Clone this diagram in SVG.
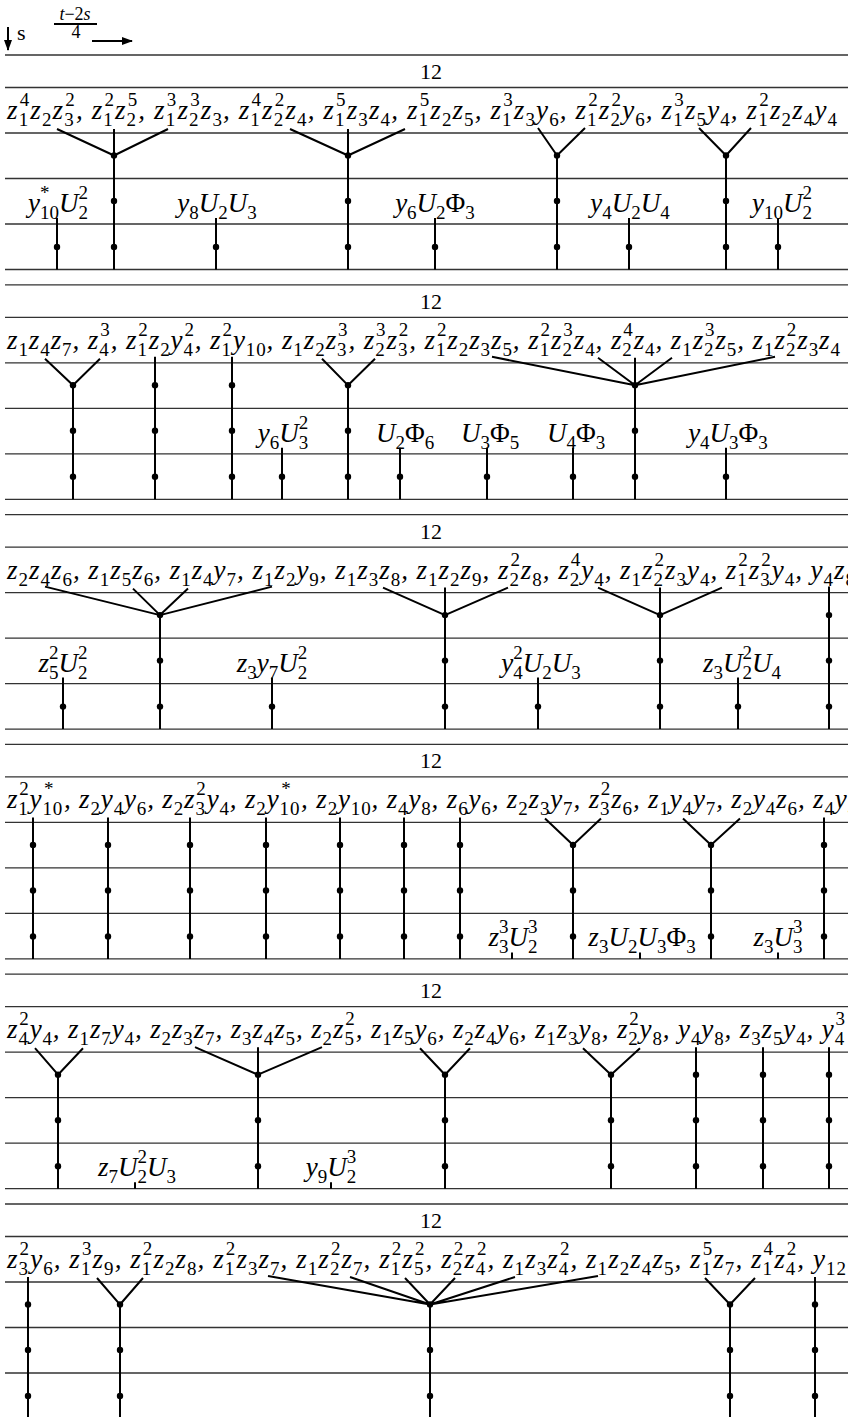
<svg xmlns="http://www.w3.org/2000/svg" xmlns:xlink="http://www.w3.org/1999/xlink" width="848" height="1417" viewBox="0 0 848 1417">
<style>
.hl{stroke:#333;stroke-width:1.3;fill:none}
.c{stroke:#000;stroke-width:2;fill:none}
.h{font-family:"Liberation Serif",serif;font-size:27px;font-style:italic;fill:#000}
.s{font-size:19px;font-style:normal}
.u{font-style:normal}
.n{font-family:"Liberation Serif",serif;font-size:22px;fill:#000}
.f{font-family:"Liberation Serif",serif;font-size:18px;fill:#000}
</style>
<defs>
<marker id="ah" markerUnits="userSpaceOnUse" markerWidth="11" markerHeight="8" refX="10" refY="4" orient="auto"><path d="M0,0 L11,4 L0,8 z" fill="#000"/></marker>
<circle id="dot" r="3.2" fill="#000"/>
</defs>
<rect width="848" height="1417" fill="#fff"/>

<g id="axes">
<path class="c" stroke-width="1.3" d="M8,27 V50" marker-end="url(#ah)"/>
<text class="n" x="17" y="40">s</text>
<text class="f" x="75" y="20" text-anchor="middle" font-style="italic">t<tspan class="u">−2</tspan>s</text>
<path class="c" stroke-width="1" d="M54,24 H97"/>
<text class="f" x="76" y="38" text-anchor="middle">4</text>
<path class="c" stroke-width="1.3" d="M92,41 H132" marker-end="url(#ah)"/>
</g>

<!-- Panel 1 -->
<g id="panel-1">
<g id="p1-frame"><path class="hl" d="M5,55H848M5,87.5H848M5,133H848M5,178.5H848M5,224H848M5,269.5H848"/><text class="n" x="431" y="79" text-anchor="middle">12</text></g>
<g id="p1-header"><text class="h" x="7" y="119" textLength="830" lengthAdjust="spacing">z<tspan class="s" dy="7">1</tspan><tspan class="s" dx="-9.5" dy="-20">4</tspan><tspan dy="13">z</tspan><tspan class="s" dy="7">2</tspan><tspan dy="-7">z</tspan><tspan class="s" dy="7">3</tspan><tspan class="s" dx="-9.5" dy="-20">2</tspan><tspan dy="13">, z</tspan><tspan class="s" dy="7">1</tspan><tspan class="s" dx="-9.5" dy="-20">2</tspan><tspan dy="13">z</tspan><tspan class="s" dy="7">2</tspan><tspan class="s" dx="-9.5" dy="-20">5</tspan><tspan dy="13">, z</tspan><tspan class="s" dy="7">1</tspan><tspan class="s" dx="-9.5" dy="-20">3</tspan><tspan dy="13">z</tspan><tspan class="s" dy="7">2</tspan><tspan class="s" dx="-9.5" dy="-20">3</tspan><tspan dy="13">z</tspan><tspan class="s" dy="7">3</tspan><tspan dy="-7">, z</tspan><tspan class="s" dy="7">1</tspan><tspan class="s" dx="-9.5" dy="-20">4</tspan><tspan dy="13">z</tspan><tspan class="s" dy="7">2</tspan><tspan class="s" dx="-9.5" dy="-20">2</tspan><tspan dy="13">z</tspan><tspan class="s" dy="7">4</tspan><tspan dy="-7">, z</tspan><tspan class="s" dy="7">1</tspan><tspan class="s" dx="-9.5" dy="-20">5</tspan><tspan dy="13">z</tspan><tspan class="s" dy="7">3</tspan><tspan dy="-7">z</tspan><tspan class="s" dy="7">4</tspan><tspan dy="-7">, z</tspan><tspan class="s" dy="7">1</tspan><tspan class="s" dx="-9.5" dy="-20">5</tspan><tspan dy="13">z</tspan><tspan class="s" dy="7">2</tspan><tspan dy="-7">z</tspan><tspan class="s" dy="7">5</tspan><tspan dy="-7">, z</tspan><tspan class="s" dy="7">1</tspan><tspan class="s" dx="-9.5" dy="-20">3</tspan><tspan dy="13">z</tspan><tspan class="s" dy="7">3</tspan><tspan dy="-7">y</tspan><tspan class="s" dy="7">6</tspan><tspan dy="-7">, z</tspan><tspan class="s" dy="7">1</tspan><tspan class="s" dx="-9.5" dy="-20">2</tspan><tspan dy="13">z</tspan><tspan class="s" dy="7">2</tspan><tspan class="s" dx="-9.5" dy="-20">2</tspan><tspan dy="13">y</tspan><tspan class="s" dy="7">6</tspan><tspan dy="-7">, z</tspan><tspan class="s" dy="7">1</tspan><tspan class="s" dx="-9.5" dy="-20">3</tspan><tspan dy="13">z</tspan><tspan class="s" dy="7">5</tspan><tspan dy="-7">y</tspan><tspan class="s" dy="7">4</tspan><tspan dy="-7">, z</tspan><tspan class="s" dy="7">1</tspan><tspan class="s" dx="-9.5" dy="-20">2</tspan><tspan dy="13">z</tspan><tspan class="s" dy="7">2</tspan><tspan dy="-7">z</tspan><tspan class="s" dy="7">4</tspan><tspan dy="-7">y</tspan><tspan class="s" dy="7">4</tspan></text></g>
<g id="p1-connectors">
<path class="c" d="M57,129L114,155.5M114,129V269.5M168,129L114,155.5M290,129L348,155.5M348,129V269.5M405,129L348,155.5M538,128L557,155.5V269.5M585,128L557,155.5M699,128L726,155.5V269.5M751,128L726,155.5M57,218V269.5M216,218V269.5M435,218V269.5M629,218V269.5M778,218V269.5"/>
<use xlink:href="#dot" x="114" y="155.5"/><use xlink:href="#dot" x="114" y="201"/><use xlink:href="#dot" x="114" y="247"/>
<use xlink:href="#dot" x="348" y="155.5"/><use xlink:href="#dot" x="348" y="201"/><use xlink:href="#dot" x="348" y="247"/>
<use xlink:href="#dot" x="557" y="155.5"/><use xlink:href="#dot" x="557" y="201"/><use xlink:href="#dot" x="557" y="247"/>
<use xlink:href="#dot" x="726" y="155.5"/><use xlink:href="#dot" x="726" y="201"/><use xlink:href="#dot" x="726" y="247"/>
<use xlink:href="#dot" x="57" y="247"/><use xlink:href="#dot" x="216" y="247"/><use xlink:href="#dot" x="435" y="247"/><use xlink:href="#dot" x="629" y="247"/><use xlink:href="#dot" x="778" y="247"/>
</g>
<g id="p1-l1"><text class="h" x="58" y="212" text-anchor="middle">y<tspan class="s" dy="7">10</tspan><tspan class="s" dx="-19" dy="-20">*</tspan><tspan dx="9.5" dy="13">U</tspan><tspan class="s" dy="7">2</tspan><tspan class="s" dx="-9.5" dy="-20">2</tspan></text></g>
<g id="p1-l2"><text class="h" x="217" y="212" text-anchor="middle">y<tspan class="s" dy="7">8</tspan><tspan dy="-7">U</tspan><tspan class="s" dy="7">2</tspan><tspan dy="-7">U</tspan><tspan class="s" dy="7">3</tspan></text></g>
<g id="p1-l3"><text class="h" x="435" y="212" text-anchor="middle">y<tspan class="s" dy="7">6</tspan><tspan dy="-7">U</tspan><tspan class="s" dy="7">2</tspan><tspan class="u" dy="-7">Φ</tspan><tspan class="s" dy="7">3</tspan></text></g>
<g id="p1-l4"><text class="h" x="630" y="212" text-anchor="middle">y<tspan class="s" dy="7">4</tspan><tspan dy="-7">U</tspan><tspan class="s" dy="7">2</tspan><tspan dy="-7">U</tspan><tspan class="s" dy="7">4</tspan></text></g>
<g id="p1-l5"><text class="h" x="782" y="212" text-anchor="middle">y<tspan class="s" dy="7">10</tspan><tspan dy="-7">U</tspan><tspan class="s" dy="7">2</tspan><tspan class="s" dx="-9.5" dy="-20">2</tspan></text></g>
</g>

<!-- Panel 2 -->
<g id="panel-2" transform="translate(0,229.8)">
<g id="p2-frame"><path class="hl" d="M5,55H848M5,87.5H848M5,133H848M5,178.5H848M5,224H848M5,269.5H848"/><text class="n" x="431" y="79" text-anchor="middle">12</text></g>
<g id="p2-header"><text class="h" x="7" y="119" textLength="833" lengthAdjust="spacing">z<tspan class="s" dy="7">1</tspan><tspan dy="-7">z</tspan><tspan class="s" dy="7">4</tspan><tspan dy="-7">z</tspan><tspan class="s" dy="7">7</tspan><tspan dy="-7">, z</tspan><tspan class="s" dy="7">4</tspan><tspan class="s" dx="-9.5" dy="-20">3</tspan><tspan dy="13">, z</tspan><tspan class="s" dy="7">1</tspan><tspan class="s" dx="-9.5" dy="-20">2</tspan><tspan dy="13">z</tspan><tspan class="s" dy="7">2</tspan><tspan dy="-7">y</tspan><tspan class="s" dy="7">4</tspan><tspan class="s" dx="-9.5" dy="-20">2</tspan><tspan dy="13">, z</tspan><tspan class="s" dy="7">1</tspan><tspan class="s" dx="-9.5" dy="-20">2</tspan><tspan dy="13">y</tspan><tspan class="s" dy="7">10</tspan><tspan dy="-7">, z</tspan><tspan class="s" dy="7">1</tspan><tspan dy="-7">z</tspan><tspan class="s" dy="7">2</tspan><tspan dy="-7">z</tspan><tspan class="s" dy="7">3</tspan><tspan class="s" dx="-9.5" dy="-20">3</tspan><tspan dy="13">, z</tspan><tspan class="s" dy="7">2</tspan><tspan class="s" dx="-9.5" dy="-20">3</tspan><tspan dy="13">z</tspan><tspan class="s" dy="7">3</tspan><tspan class="s" dx="-9.5" dy="-20">2</tspan><tspan dy="13">, z</tspan><tspan class="s" dy="7">1</tspan><tspan class="s" dx="-9.5" dy="-20">2</tspan><tspan dy="13">z</tspan><tspan class="s" dy="7">2</tspan><tspan dy="-7">z</tspan><tspan class="s" dy="7">3</tspan><tspan dy="-7">z</tspan><tspan class="s" dy="7">5</tspan><tspan dy="-7">, z</tspan><tspan class="s" dy="7">1</tspan><tspan class="s" dx="-9.5" dy="-20">2</tspan><tspan dy="13">z</tspan><tspan class="s" dy="7">2</tspan><tspan class="s" dx="-9.5" dy="-20">3</tspan><tspan dy="13">z</tspan><tspan class="s" dy="7">4</tspan><tspan dy="-7">, z</tspan><tspan class="s" dy="7">2</tspan><tspan class="s" dx="-9.5" dy="-20">4</tspan><tspan dy="13">z</tspan><tspan class="s" dy="7">4</tspan><tspan dy="-7">, z</tspan><tspan class="s" dy="7">1</tspan><tspan dy="-7">z</tspan><tspan class="s" dy="7">2</tspan><tspan class="s" dx="-9.5" dy="-20">3</tspan><tspan dy="13">z</tspan><tspan class="s" dy="7">5</tspan><tspan dy="-7">, z</tspan><tspan class="s" dy="7">1</tspan><tspan dy="-7">z</tspan><tspan class="s" dy="7">2</tspan><tspan class="s" dx="-9.5" dy="-20">2</tspan><tspan dy="13">z</tspan><tspan class="s" dy="7">3</tspan><tspan dy="-7">z</tspan><tspan class="s" dy="7">4</tspan></text></g>
<g id="p2-connectors">
<path class="c" d="M45,129L73,155.5V269.5M100,129L73,155.5M155,127V269.5M232,127V269.5M322,129L348,155.5V269.5M375,129L348,155.5M492,127L635,155.5M598,128L635,155.5M635,128V269.5M672,128L635,155.5M775,127L635,155.5M282,218V269.5M400,218V269.5M487,218V269.5M573,218V269.5M726,218V269.5"/>
<use xlink:href="#dot" x="73" y="155.5"/><use xlink:href="#dot" x="73" y="201"/><use xlink:href="#dot" x="73" y="247"/>
<use xlink:href="#dot" x="155" y="155.5"/><use xlink:href="#dot" x="155" y="201"/><use xlink:href="#dot" x="155" y="247"/>
<use xlink:href="#dot" x="232" y="155.5"/><use xlink:href="#dot" x="232" y="201"/><use xlink:href="#dot" x="232" y="247"/>
<use xlink:href="#dot" x="348" y="155.5"/><use xlink:href="#dot" x="348" y="201"/><use xlink:href="#dot" x="348" y="247"/>
<use xlink:href="#dot" x="635" y="155.5"/><use xlink:href="#dot" x="635" y="201"/><use xlink:href="#dot" x="635" y="247"/>
<use xlink:href="#dot" x="282" y="247"/><use xlink:href="#dot" x="400" y="247"/><use xlink:href="#dot" x="487" y="247"/><use xlink:href="#dot" x="573" y="247"/><use xlink:href="#dot" x="726" y="247"/>
</g>
<g id="p2-l1"><text class="h" x="283" y="212" text-anchor="middle">y<tspan class="s" dy="7">6</tspan><tspan dy="-7">U</tspan><tspan class="s" dy="7">3</tspan><tspan class="s" dx="-9.5" dy="-20">2</tspan></text></g>
<g id="p2-l2"><text class="h" x="405" y="212" text-anchor="middle">U<tspan class="s" dy="7">2</tspan><tspan class="u" dy="-7">Φ</tspan><tspan class="s" dy="7">6</tspan></text></g>
<g id="p2-l3"><text class="h" x="490" y="212" text-anchor="middle">U<tspan class="s" dy="7">3</tspan><tspan class="u" dy="-7">Φ</tspan><tspan class="s" dy="7">5</tspan></text></g>
<g id="p2-l4"><text class="h" x="576" y="212" text-anchor="middle">U<tspan class="s" dy="7">4</tspan><tspan class="u" dy="-7">Φ</tspan><tspan class="s" dy="7">3</tspan></text></g>
<g id="p2-l5"><text class="h" x="728" y="212" text-anchor="middle">y<tspan class="s" dy="7">4</tspan><tspan dy="-7">U</tspan><tspan class="s" dy="7">3</tspan><tspan class="u" dy="-7">Φ</tspan><tspan class="s" dy="7">3</tspan></text></g>
</g>

<!-- Panel 3 -->
<g id="panel-3" transform="translate(0,459.6)">
<g id="p3-frame"><path class="hl" d="M5,55H848M5,87.5H848M5,133H848M5,178.5H848M5,224H848M5,269.5H848"/><text class="n" x="431" y="79" text-anchor="middle">12</text></g>
<g id="p3-header"><text class="h" x="7" y="119" textLength="848" lengthAdjust="spacing">z<tspan class="s" dy="7">2</tspan><tspan dy="-7">z</tspan><tspan class="s" dy="7">4</tspan><tspan dy="-7">z</tspan><tspan class="s" dy="7">6</tspan><tspan dy="-7">, z</tspan><tspan class="s" dy="7">1</tspan><tspan dy="-7">z</tspan><tspan class="s" dy="7">5</tspan><tspan dy="-7">z</tspan><tspan class="s" dy="7">6</tspan><tspan dy="-7">, z</tspan><tspan class="s" dy="7">1</tspan><tspan dy="-7">z</tspan><tspan class="s" dy="7">4</tspan><tspan dy="-7">y</tspan><tspan class="s" dy="7">7</tspan><tspan dy="-7">, z</tspan><tspan class="s" dy="7">1</tspan><tspan dy="-7">z</tspan><tspan class="s" dy="7">2</tspan><tspan dy="-7">y</tspan><tspan class="s" dy="7">9</tspan><tspan dy="-7">, z</tspan><tspan class="s" dy="7">1</tspan><tspan dy="-7">z</tspan><tspan class="s" dy="7">3</tspan><tspan dy="-7">z</tspan><tspan class="s" dy="7">8</tspan><tspan dy="-7">, z</tspan><tspan class="s" dy="7">1</tspan><tspan dy="-7">z</tspan><tspan class="s" dy="7">2</tspan><tspan dy="-7">z</tspan><tspan class="s" dy="7">9</tspan><tspan dy="-7">, z</tspan><tspan class="s" dy="7">2</tspan><tspan class="s" dx="-9.5" dy="-20">2</tspan><tspan dy="13">z</tspan><tspan class="s" dy="7">8</tspan><tspan dy="-7">, z</tspan><tspan class="s" dy="7">2</tspan><tspan class="s" dx="-9.5" dy="-20">4</tspan><tspan dy="13">y</tspan><tspan class="s" dy="7">4</tspan><tspan dy="-7">, z</tspan><tspan class="s" dy="7">1</tspan><tspan dy="-7">z</tspan><tspan class="s" dy="7">2</tspan><tspan class="s" dx="-9.5" dy="-20">2</tspan><tspan dy="13">z</tspan><tspan class="s" dy="7">3</tspan><tspan dy="-7">y</tspan><tspan class="s" dy="7">4</tspan><tspan dy="-7">, z</tspan><tspan class="s" dy="7">1</tspan><tspan class="s" dx="-9.5" dy="-20">2</tspan><tspan dy="13">z</tspan><tspan class="s" dy="7">3</tspan><tspan class="s" dx="-9.5" dy="-20">2</tspan><tspan dy="13">y</tspan><tspan class="s" dy="7">4</tspan><tspan dy="-7">, y</tspan><tspan class="s" dy="7">4</tspan><tspan dy="-7">z</tspan><tspan class="s" dy="7">8</tspan></text></g>
<g id="p3-connectors">
<path class="c" d="M45,127L160,155.5M133,129L160,155.5M188,129L160,155.5M272,127L160,155.5M160,155.5V269.5M383,128L445,155.5M445,128V269.5M508,128L445,155.5M598,128L660,155.5M660,128V269.5M722,128L660,155.5M829,127V269.5M63,218V269.5M272,218V269.5M538,218V269.5M738,218V269.5"/>
<use xlink:href="#dot" x="160" y="155.5"/><use xlink:href="#dot" x="160" y="201"/><use xlink:href="#dot" x="160" y="247"/>
<use xlink:href="#dot" x="445" y="155.5"/><use xlink:href="#dot" x="445" y="201"/><use xlink:href="#dot" x="445" y="247"/>
<use xlink:href="#dot" x="660" y="155.5"/><use xlink:href="#dot" x="660" y="201"/><use xlink:href="#dot" x="660" y="247"/>
<use xlink:href="#dot" x="829" y="155.5"/><use xlink:href="#dot" x="829" y="201"/><use xlink:href="#dot" x="829" y="247"/>
<use xlink:href="#dot" x="63" y="247"/><use xlink:href="#dot" x="272" y="247"/><use xlink:href="#dot" x="538" y="247"/><use xlink:href="#dot" x="738" y="247"/>
</g>
<g id="p3-l1"><text class="h" x="63" y="212" text-anchor="middle">z<tspan class="s" dy="7">5</tspan><tspan class="s" dx="-9.5" dy="-20">2</tspan><tspan dy="13">U</tspan><tspan class="s" dy="7">2</tspan><tspan class="s" dx="-9.5" dy="-20">2</tspan></text></g>
<g id="p3-l2"><text class="h" x="272" y="212" text-anchor="middle">z<tspan class="s" dy="7">3</tspan><tspan dy="-7">y</tspan><tspan class="s" dy="7">7</tspan><tspan dy="-7">U</tspan><tspan class="s" dy="7">2</tspan><tspan class="s" dx="-9.5" dy="-20">2</tspan></text></g>
<g id="p3-l3"><text class="h" x="541" y="212" text-anchor="middle">y<tspan class="s" dy="7">4</tspan><tspan class="s" dx="-9.5" dy="-20">2</tspan><tspan dy="13">U</tspan><tspan class="s" dy="7">2</tspan><tspan dy="-7">U</tspan><tspan class="s" dy="7">3</tspan></text></g>
<g id="p3-l4"><text class="h" x="742" y="212" text-anchor="middle">z<tspan class="s" dy="7">3</tspan><tspan dy="-7">U</tspan><tspan class="s" dy="7">2</tspan><tspan class="s" dx="-9.5" dy="-20">2</tspan><tspan dy="13">U</tspan><tspan class="s" dy="7">4</tspan></text></g>
</g>

<!-- Panel 4 -->
<g id="panel-4" transform="translate(0,689.4)">
<g id="p4-frame"><path class="hl" d="M5,55H848M5,87.5H848M5,133H848M5,178.5H848M5,224H848M5,269.5H848"/><text class="n" x="431" y="79" text-anchor="middle">12</text></g>
<g id="p4-header"><text class="h" x="7" y="119" textLength="851" lengthAdjust="spacing">z<tspan class="s" dy="7">1</tspan><tspan class="s" dx="-9.5" dy="-20">2</tspan><tspan dy="13">y</tspan><tspan class="s" dy="7">10</tspan><tspan class="s" dx="-19" dy="-20">*</tspan><tspan dx="9.5" dy="13">, z</tspan><tspan class="s" dy="7">2</tspan><tspan dy="-7">y</tspan><tspan class="s" dy="7">4</tspan><tspan dy="-7">y</tspan><tspan class="s" dy="7">6</tspan><tspan dy="-7">, z</tspan><tspan class="s" dy="7">2</tspan><tspan dy="-7">z</tspan><tspan class="s" dy="7">3</tspan><tspan class="s" dx="-9.5" dy="-20">2</tspan><tspan dy="13">y</tspan><tspan class="s" dy="7">4</tspan><tspan dy="-7">, z</tspan><tspan class="s" dy="7">2</tspan><tspan dy="-7">y</tspan><tspan class="s" dy="7">10</tspan><tspan class="s" dx="-19" dy="-20">*</tspan><tspan dx="9.5" dy="13">, z</tspan><tspan class="s" dy="7">2</tspan><tspan dy="-7">y</tspan><tspan class="s" dy="7">10</tspan><tspan dy="-7">, z</tspan><tspan class="s" dy="7">4</tspan><tspan dy="-7">y</tspan><tspan class="s" dy="7">8</tspan><tspan dy="-7">, z</tspan><tspan class="s" dy="7">6</tspan><tspan dy="-7">y</tspan><tspan class="s" dy="7">6</tspan><tspan dy="-7">, z</tspan><tspan class="s" dy="7">2</tspan><tspan dy="-7">z</tspan><tspan class="s" dy="7">3</tspan><tspan dy="-7">y</tspan><tspan class="s" dy="7">7</tspan><tspan dy="-7">, z</tspan><tspan class="s" dy="7">3</tspan><tspan class="s" dx="-9.5" dy="-20">2</tspan><tspan dy="13">z</tspan><tspan class="s" dy="7">6</tspan><tspan dy="-7">, z</tspan><tspan class="s" dy="7">1</tspan><tspan dy="-7">y</tspan><tspan class="s" dy="7">4</tspan><tspan dy="-7">y</tspan><tspan class="s" dy="7">7</tspan><tspan dy="-7">, z</tspan><tspan class="s" dy="7">2</tspan><tspan dy="-7">y</tspan><tspan class="s" dy="7">4</tspan><tspan dy="-7">z</tspan><tspan class="s" dy="7">6</tspan><tspan dy="-7">, z</tspan><tspan class="s" dy="7">4</tspan><tspan dy="-7">y</tspan><tspan class="s" dy="7">4</tspan><tspan class="s" dx="-9.5" dy="-20">2</tspan></text></g>
<g id="p4-connectors">
<path class="c" d="M33,128V269.5M108,128V269.5M190,128V269.5M266,128V269.5M340,128V269.5M404,128V269.5M460,128V269.5M824,128V269.5M545,129L573,155.5V269.5M601,129L573,155.5M683,129L711,155.5V269.5M740,129L711,155.5M512,263V269.5M640,263V269.5M778,263V269.5"/>
<use xlink:href="#dot" x="33" y="155.5"/><use xlink:href="#dot" x="33" y="201"/><use xlink:href="#dot" x="33" y="247"/>
<use xlink:href="#dot" x="108" y="155.5"/><use xlink:href="#dot" x="108" y="201"/><use xlink:href="#dot" x="108" y="247"/>
<use xlink:href="#dot" x="190" y="155.5"/><use xlink:href="#dot" x="190" y="201"/><use xlink:href="#dot" x="190" y="247"/>
<use xlink:href="#dot" x="266" y="155.5"/><use xlink:href="#dot" x="266" y="201"/><use xlink:href="#dot" x="266" y="247"/>
<use xlink:href="#dot" x="340" y="155.5"/><use xlink:href="#dot" x="340" y="201"/><use xlink:href="#dot" x="340" y="247"/>
<use xlink:href="#dot" x="404" y="155.5"/><use xlink:href="#dot" x="404" y="201"/><use xlink:href="#dot" x="404" y="247"/>
<use xlink:href="#dot" x="460" y="155.5"/><use xlink:href="#dot" x="460" y="201"/><use xlink:href="#dot" x="460" y="247"/>
<use xlink:href="#dot" x="573" y="155.5"/><use xlink:href="#dot" x="573" y="201"/><use xlink:href="#dot" x="573" y="247"/>
<use xlink:href="#dot" x="711" y="155.5"/><use xlink:href="#dot" x="711" y="201"/><use xlink:href="#dot" x="711" y="247"/>
<use xlink:href="#dot" x="824" y="155.5"/><use xlink:href="#dot" x="824" y="201"/><use xlink:href="#dot" x="824" y="247"/>
</g>
<g id="p4-l1"><text class="h" x="513" y="257" text-anchor="middle">z<tspan class="s" dy="7">3</tspan><tspan class="s" dx="-9.5" dy="-20">3</tspan><tspan dy="13">U</tspan><tspan class="s" dy="7">2</tspan><tspan class="s" dx="-9.5" dy="-20">3</tspan></text></g>
<g id="p4-l2"><text class="h" x="642" y="257" text-anchor="middle">z<tspan class="s" dy="7">3</tspan><tspan dy="-7">U</tspan><tspan class="s" dy="7">2</tspan><tspan dy="-7">U</tspan><tspan class="s" dy="7">3</tspan><tspan class="u" dy="-7">Φ</tspan><tspan class="s" dy="7">3</tspan></text></g>
<g id="p4-l3"><text class="h" x="778" y="257" text-anchor="middle">z<tspan class="s" dy="7">3</tspan><tspan dy="-7">U</tspan><tspan class="s" dy="7">3</tspan><tspan class="s" dx="-9.5" dy="-20">3</tspan></text></g>
</g>

<!-- Panel 5 -->
<g id="panel-5" transform="translate(0,919.2)">
<g id="p5-frame"><path class="hl" d="M5,55H848M5,87.5H848M5,133H848M5,178.5H848M5,224H848M5,269.5H848"/><text class="n" x="431" y="79" text-anchor="middle">12</text></g>
<g id="p5-header"><text class="h" x="7" y="119" textLength="838" lengthAdjust="spacing">z<tspan class="s" dy="7">4</tspan><tspan class="s" dx="-9.5" dy="-20">2</tspan><tspan dy="13">y</tspan><tspan class="s" dy="7">4</tspan><tspan dy="-7">, z</tspan><tspan class="s" dy="7">1</tspan><tspan dy="-7">z</tspan><tspan class="s" dy="7">7</tspan><tspan dy="-7">y</tspan><tspan class="s" dy="7">4</tspan><tspan dy="-7">, z</tspan><tspan class="s" dy="7">2</tspan><tspan dy="-7">z</tspan><tspan class="s" dy="7">3</tspan><tspan dy="-7">z</tspan><tspan class="s" dy="7">7</tspan><tspan dy="-7">, z</tspan><tspan class="s" dy="7">3</tspan><tspan dy="-7">z</tspan><tspan class="s" dy="7">4</tspan><tspan dy="-7">z</tspan><tspan class="s" dy="7">5</tspan><tspan dy="-7">, z</tspan><tspan class="s" dy="7">2</tspan><tspan dy="-7">z</tspan><tspan class="s" dy="7">5</tspan><tspan class="s" dx="-9.5" dy="-20">2</tspan><tspan dy="13">, z</tspan><tspan class="s" dy="7">1</tspan><tspan dy="-7">z</tspan><tspan class="s" dy="7">5</tspan><tspan dy="-7">y</tspan><tspan class="s" dy="7">6</tspan><tspan dy="-7">, z</tspan><tspan class="s" dy="7">2</tspan><tspan dy="-7">z</tspan><tspan class="s" dy="7">4</tspan><tspan dy="-7">y</tspan><tspan class="s" dy="7">6</tspan><tspan dy="-7">, z</tspan><tspan class="s" dy="7">1</tspan><tspan dy="-7">z</tspan><tspan class="s" dy="7">3</tspan><tspan dy="-7">y</tspan><tspan class="s" dy="7">8</tspan><tspan dy="-7">, z</tspan><tspan class="s" dy="7">2</tspan><tspan class="s" dx="-9.5" dy="-20">2</tspan><tspan dy="13">y</tspan><tspan class="s" dy="7">8</tspan><tspan dy="-7">, y</tspan><tspan class="s" dy="7">4</tspan><tspan dy="-7">y</tspan><tspan class="s" dy="7">8</tspan><tspan dy="-7">, z</tspan><tspan class="s" dy="7">3</tspan><tspan dy="-7">z</tspan><tspan class="s" dy="7">5</tspan><tspan dy="-7">y</tspan><tspan class="s" dy="7">4</tspan><tspan dy="-7">, y</tspan><tspan class="s" dy="7">4</tspan><tspan class="s" dx="-9.5" dy="-20">3</tspan></text></g>
<g id="p5-connectors">
<path class="c" d="M35,129L58,155.5V269.5M83,129L58,155.5M195,128L258,155.5M258,128V269.5M322,128L258,155.5M420,129L445,155.5V269.5M470,129L445,155.5M583,129L611,155.5V269.5M640,129L611,155.5M696,128V269.5M763,128V269.5M829,128V269.5M135,263V269.5M331,263V269.5"/>
<use xlink:href="#dot" x="58" y="155.5"/><use xlink:href="#dot" x="58" y="201"/><use xlink:href="#dot" x="58" y="247"/>
<use xlink:href="#dot" x="258" y="155.5"/><use xlink:href="#dot" x="258" y="201"/><use xlink:href="#dot" x="258" y="247"/>
<use xlink:href="#dot" x="445" y="155.5"/><use xlink:href="#dot" x="445" y="201"/><use xlink:href="#dot" x="445" y="247"/>
<use xlink:href="#dot" x="611" y="155.5"/><use xlink:href="#dot" x="611" y="201"/><use xlink:href="#dot" x="611" y="247"/>
<use xlink:href="#dot" x="696" y="155.5"/><use xlink:href="#dot" x="696" y="201"/><use xlink:href="#dot" x="696" y="247"/>
<use xlink:href="#dot" x="763" y="155.5"/><use xlink:href="#dot" x="763" y="201"/><use xlink:href="#dot" x="763" y="247"/>
<use xlink:href="#dot" x="829" y="155.5"/><use xlink:href="#dot" x="829" y="201"/><use xlink:href="#dot" x="829" y="247"/>
</g>
<g id="p5-l1"><text class="h" x="137" y="257" text-anchor="middle">z<tspan class="s" dy="7">7</tspan><tspan dy="-7">U</tspan><tspan class="s" dy="7">2</tspan><tspan class="s" dx="-9.5" dy="-20">2</tspan><tspan dy="13">U</tspan><tspan class="s" dy="7">3</tspan></text></g>
<g id="p5-l2"><text class="h" x="331" y="257" text-anchor="middle">y<tspan class="s" dy="7">9</tspan><tspan dy="-7">U</tspan><tspan class="s" dy="7">2</tspan><tspan class="s" dx="-9.5" dy="-20">3</tspan></text></g>
</g>

<!-- Panel 6 -->
<g id="panel-6" transform="translate(0,1149)">
<g id="p6-frame"><path class="hl" d="M5,55H848M5,87.5H848M5,133H848M5,178.5H848M5,224H848"/><text class="n" x="431" y="79" text-anchor="middle">12</text></g>
<g id="p6-header"><text class="h" x="7" y="119" textLength="839" lengthAdjust="spacing">z<tspan class="s" dy="7">3</tspan><tspan class="s" dx="-9.5" dy="-20">2</tspan><tspan dy="13">y</tspan><tspan class="s" dy="7">6</tspan><tspan dy="-7">, z</tspan><tspan class="s" dy="7">1</tspan><tspan class="s" dx="-9.5" dy="-20">3</tspan><tspan dy="13">z</tspan><tspan class="s" dy="7">9</tspan><tspan dy="-7">, z</tspan><tspan class="s" dy="7">1</tspan><tspan class="s" dx="-9.5" dy="-20">2</tspan><tspan dy="13">z</tspan><tspan class="s" dy="7">2</tspan><tspan dy="-7">z</tspan><tspan class="s" dy="7">8</tspan><tspan dy="-7">, z</tspan><tspan class="s" dy="7">1</tspan><tspan class="s" dx="-9.5" dy="-20">2</tspan><tspan dy="13">z</tspan><tspan class="s" dy="7">3</tspan><tspan dy="-7">z</tspan><tspan class="s" dy="7">7</tspan><tspan dy="-7">, z</tspan><tspan class="s" dy="7">1</tspan><tspan dy="-7">z</tspan><tspan class="s" dy="7">2</tspan><tspan class="s" dx="-9.5" dy="-20">2</tspan><tspan dy="13">z</tspan><tspan class="s" dy="7">7</tspan><tspan dy="-7">, z</tspan><tspan class="s" dy="7">1</tspan><tspan class="s" dx="-9.5" dy="-20">2</tspan><tspan dy="13">z</tspan><tspan class="s" dy="7">5</tspan><tspan class="s" dx="-9.5" dy="-20">2</tspan><tspan dy="13">, z</tspan><tspan class="s" dy="7">2</tspan><tspan class="s" dx="-9.5" dy="-20">2</tspan><tspan dy="13">z</tspan><tspan class="s" dy="7">4</tspan><tspan class="s" dx="-9.5" dy="-20">2</tspan><tspan dy="13">, z</tspan><tspan class="s" dy="7">1</tspan><tspan dy="-7">z</tspan><tspan class="s" dy="7">3</tspan><tspan dy="-7">z</tspan><tspan class="s" dy="7">4</tspan><tspan class="s" dx="-9.5" dy="-20">2</tspan><tspan dy="13">, z</tspan><tspan class="s" dy="7">1</tspan><tspan dy="-7">z</tspan><tspan class="s" dy="7">2</tspan><tspan dy="-7">z</tspan><tspan class="s" dy="7">4</tspan><tspan dy="-7">z</tspan><tspan class="s" dy="7">5</tspan><tspan dy="-7">, z</tspan><tspan class="s" dy="7">1</tspan><tspan class="s" dx="-9.5" dy="-20">5</tspan><tspan dy="13">z</tspan><tspan class="s" dy="7">7</tspan><tspan dy="-7">, z</tspan><tspan class="s" dy="7">1</tspan><tspan class="s" dx="-9.5" dy="-20">4</tspan><tspan dy="13">z</tspan><tspan class="s" dy="7">4</tspan><tspan class="s" dx="-9.5" dy="-20">2</tspan><tspan dy="13">, y</tspan><tspan class="s" dy="7">12</tspan></text></g>
<g id="p6-connectors">
<path class="c" d="M28,128V268M97,129L120,155.5V268M143,129L120,155.5M268,127L430,155.5M350,128L430,155.5M405,129L430,155.5M455,129L430,155.5M515,128L430,155.5M598,127L430,155.5M430,155.5V268M705,129L730,155.5V268M755,129L730,155.5M815,128V268"/>
<use xlink:href="#dot" x="28" y="155.5"/><use xlink:href="#dot" x="28" y="201"/><use xlink:href="#dot" x="28" y="247"/>
<use xlink:href="#dot" x="120" y="155.5"/><use xlink:href="#dot" x="120" y="201"/><use xlink:href="#dot" x="120" y="247"/>
<use xlink:href="#dot" x="430" y="155.5"/><use xlink:href="#dot" x="430" y="201"/><use xlink:href="#dot" x="430" y="247"/>
<use xlink:href="#dot" x="730" y="155.5"/><use xlink:href="#dot" x="730" y="201"/><use xlink:href="#dot" x="730" y="247"/>
<use xlink:href="#dot" x="815" y="155.5"/><use xlink:href="#dot" x="815" y="201"/><use xlink:href="#dot" x="815" y="247"/>
</g>
</g>
</svg>
